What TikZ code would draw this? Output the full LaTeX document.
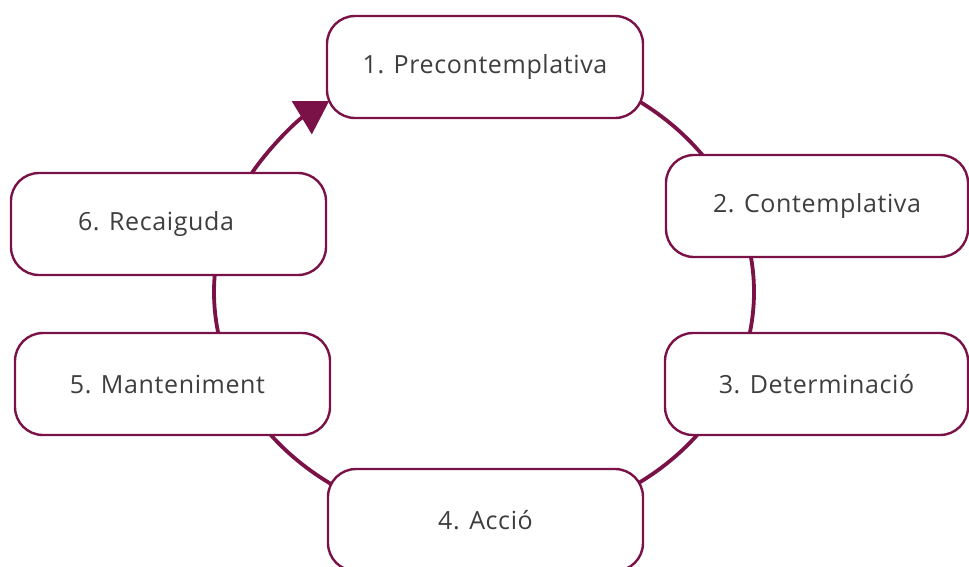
\documentclass[tikz,border=0pt]{standalone}
\usepackage{fontspec}
\setmainfont{Open Sans}[LetterSpace=2.5]
\usetikzlibrary{arrows.meta,calc}
\definecolor{maroon}{RGB}{122,18,72}
\definecolor{txtgray}{RGB}{62,62,62}
\tikzset{
  stage/.style={draw=maroon, line width=2.4pt, fill=white, rounded corners=28pt,
    minimum height=102pt, inner sep=0pt, text=txtgray, font=\fontsize{25}{29}\selectfont},
  conn/.style={draw=maroon, line width=3.8pt},
  tip/.style={-{Triangle[length=32pt,width=38pt]}}
}
\begin{document}
\begin{tikzpicture}[x=1pt,y=-1pt]
\clip (0,0) rectangle (969,566);
\fill[white] (0,0) rectangle (969,566);
\coordinate (c) at (484,292);
% connectors along the cycle (ellipse rx=270, ry=233)
\draw[conn] ($(c)+(-65:270 and 233)$) arc[start angle=-65, end angle=-25, x radius=270, y radius=233];
\draw[conn] ($(c)+(-10:270 and 233)$) arc[start angle=-10, end angle=15, x radius=270, y radius=233];
\draw[conn] ($(c)+(25:270 and 233)$) arc[start angle=25, end angle=65, x radius=270, y radius=233];
\draw[conn] ($(c)+(115:270 and 233)$) arc[start angle=115, end angle=155, x radius=270, y radius=233];
\draw[conn] ($(c)+(160:270 and 233)$) arc[start angle=160, end angle=200, x radius=270, y radius=233];
% stages
\node[stage, minimum width=316pt] (p1) at (485,67) {1. Precontemplativa};
\node[stage, minimum width=302pt] (p2) at (817,206) {2. Contemplativa};
\node[stage, minimum width=303pt] (p3) at (816.5,384) {3. Determinació};
\node[stage, minimum width=315pt] (p4) at (485.5,520) {4. Acció};
\node[stage, minimum width=315pt] (p5) at (172.5,384) {5. Manteniment\hspace*{10pt}};
\node[stage, minimum width=315pt] (p6) at (168.5,224) {6. Recaiguda\hspace*{25pt}};
% relapse back to stage 1
\draw[conn, tip] ($(c)+(210.7:270 and 233)$) arc[start angle=210.7, end angle=235.0, x radius=270, y radius=233];
\end{tikzpicture}
\end{document}
